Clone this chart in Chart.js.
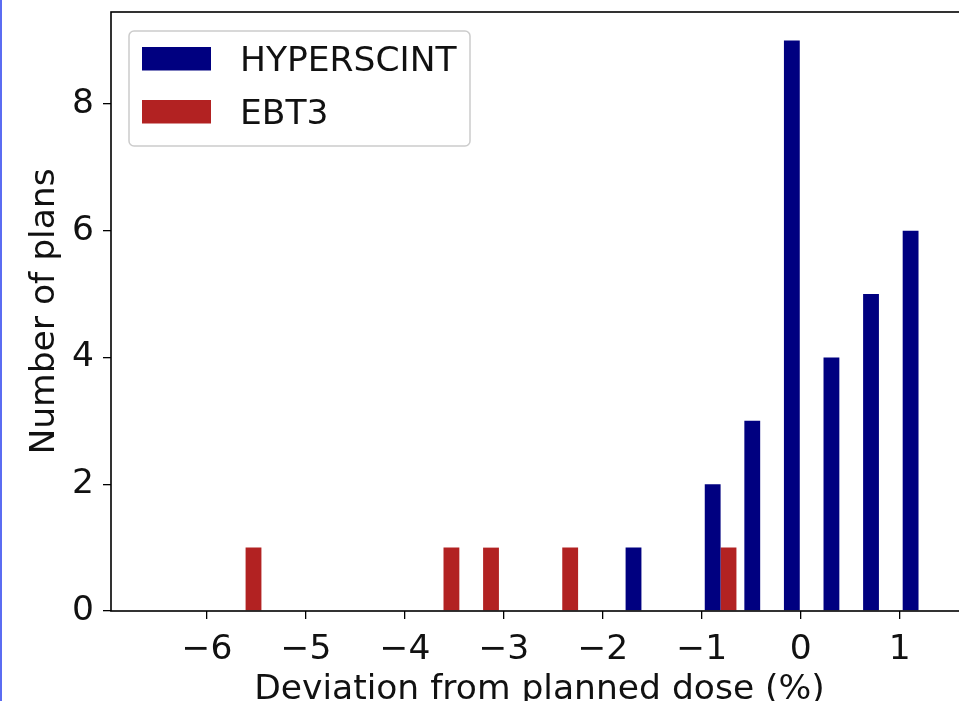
<!DOCTYPE html>
<html>
<head>
<meta charset="utf-8">
<script src="https://cdn.jsdelivr.net/npm/chart.js@4.4.1/dist/chart.umd.min.js"></script>
<style>
    html, body { margin: 0; padding: 0; background: #fff; overflow: hidden; }
    #wrap { position: relative; width: 975px; height: 701px; }
    #edge { position: absolute; left: 0; top: 0; width: 2px; height: 701px; background: #5b6cf2; }
</style>
</head>
<body>
<div id="wrap"><canvas id="histChart"></canvas></div>
<div id="edge"></div>
<script>
// histogram bins (centre of each 0.4 % wide bin)
const binCenters = [-5.61, -5.21, -4.81, -4.41, -4.01, -3.61, -3.21, -2.81, -2.41,
                    -2.01, -1.61, -1.21, -0.81, -0.41, -0.01, 0.39, 0.79, 1.19];
const hyperscintCounts = [0, 0, 0, 0, 0, 0, 0, 0, 0, 0, 1, 0, 2, 3, 9, 4, 5, 6];
const ebt3Counts = [1, 0, 0, 0, 0, 1, 1, 0, 1, 0, 0, 0, 1, 0, 0, 0, 0, 0];
const xTicks = [-6, -5, -4, -3, -2, -1, 0, 1];
const yTicks = [0, 2, 4, 6, 8];

const colors = { navy: '#000080', firebrick: '#b22222', text: '#111111' };
const fontFamily = '"DejaVu Sans", sans-serif';
const fontSize = 34.5;

const toPoints = counts => binCenters.map((x, i) => ({ x: x, y: counts[i] }));

// black box round the plot area, like matplotlib spines
const frame = {
    id: 'frame',
    afterDatasetsDraw(chart) {
        const { ctx, chartArea: a } = chart;
        ctx.save();
        ctx.strokeStyle = '#000';
        ctx.lineWidth = 1.6;
        ctx.strokeRect(a.left, a.top, a.right - a.left, a.bottom - a.top);
        ctx.restore();
    }
};

// legend drawn inside the plot, upper left
const legendBox = {
    id: 'legendBox',
    afterDraw(chart) {
        const { ctx, chartArea } = chart;
        const x = chartArea.left + 18, y = chartArea.top + 19;
        ctx.save();
        ctx.beginPath();
        ctx.roundRect(x, y, 341, 115, 5);
        ctx.fillStyle = 'rgba(255,255,255,0.8)';
        ctx.fill();
        ctx.strokeStyle = '#cccccc';
        ctx.lineWidth = 1.5;
        ctx.stroke();
        ctx.font = fontSize + 'px ' + fontFamily;
        ctx.textBaseline = 'alphabetic';
        chart.data.datasets.forEach((ds, i) => {
            const rowTop = y + 16 + i * 53;
            ctx.fillStyle = ds.backgroundColor;
            ctx.fillRect(x + 13, rowTop, 69, 23.5);
            ctx.fillStyle = colors.text;
            ctx.fillText(ds.label, x + 111, rowTop + 23.5);
        });
        ctx.restore();
    }
};

const tickStyle = { color: colors.text, font: { family: fontFamily, size: fontSize } };
const tickGrid = { display: true, offset: false, drawOnChartArea: false, drawTicks: true, tickLength: 8, color: '#000', lineWidth: 1.3 };

const ctx = document.getElementById('histChart').getContext('2d');
const histChart = new Chart(ctx, {
    type: 'bar',
    data: {
        datasets: [
            { label: 'HYPERSCINT', data: toPoints(hyperscintCounts), backgroundColor: colors.navy, borderWidth: 0 },
            { label: 'EBT3', data: toPoints(ebt3Counts), backgroundColor: colors.firebrick, borderWidth: 0 }
        ]
    },
    options: {
        responsive: true,
        maintainAspectRatio: false,
        animation: false,
        categoryPercentage: 0.8,
        barPercentage: 1.0,
        layout: { padding: { top: 12, left: 0, right: 7, bottom: 0 } },
        plugins: { legend: { display: false }, tooltip: { enabled: false } },
        scales: {
            x: {
                type: 'linear',
                min: -6.97,
                max: 1.69,
                offset: false,
                afterBuildTicks: scale => { scale.ticks = xTicks.map(v => ({ value: v })); },
                afterFit: scale => { scale.height = 90; scale.paddingLeft = 0; scale.paddingRight = 0; },
                ticks: { ...tickStyle, padding: 10, maxRotation: 0, callback: v => String(v).replace('-', '\u2212') },
                grid: tickGrid,
                border: { display: false },
                title: {
                    display: true,
                    text: 'Deviation from planned dose (%)',
                    color: colors.text,
                    font: { family: fontFamily, size: fontSize },
                    padding: { top: 0, bottom: -10 }
                }
            },
            y: {
                min: 0,
                max: 9.45,
                afterBuildTicks: scale => { scale.ticks = yTicks.map(v => ({ value: v })); },
                afterFit: scale => { scale.width = 111; scale.paddingTop = 0; scale.paddingBottom = 0; },
                ticks: { ...tickStyle, padding: 9 },
                grid: tickGrid,
                border: { display: false },
                title: {
                    display: true,
                    text: 'Number of plans',
                    color: colors.text,
                    font: { family: fontFamily, size: fontSize },
                    padding: { top: 24, bottom: 0 }
                }
            }
        }
    },
    plugins: [frame, legendBox]
});
</script>
</body>
</html>
